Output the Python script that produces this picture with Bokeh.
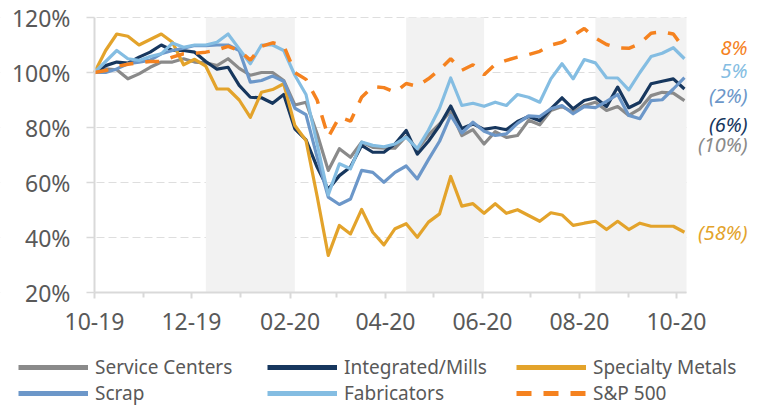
import pandas as pd
from bokeh.plotting import figure
from bokeh.models import (Range1d, FixedTicker, DatetimeTickFormatter, PrintfTickFormatter,
                          BoxAnnotation, Label, Legend, LegendItem)
from bokeh.embed import file_html
from bokeh.resources import INLINE

# ---------------- data ----------------
start_date = "2019-10-01"
n_weeks = 54
dates = pd.date_range(start_date, periods=n_weeks, freq="7D")

service_centers = [100, 101.3, 101, 97.7, 99.5, 101.9, 103.8, 103.8, 105, 103.8,
                   103.5, 102.5, 105, 101.5, 99, 100, 100, 97.1, 88.2, 89.2,
                   77.7, 64.4, 72.3, 69.2, 74.7, 72.8, 72.5, 72.5, 76.8, 72,
                   77.3, 81.3, 86, 77.1, 79.2, 74, 78.5, 76.4, 77.1, 82.6,
                   81, 86.2, 87.6, 85.6, 88, 89.2, 86.2, 87.6, 84.4, 86.8,
                   91.6, 92.8, 92.5, 89.8]
integrated_mills = [100, 102.5, 103.8, 103.4, 105.6, 107.4, 110, 108, 108, 107.4,
                    104, 101.2, 101.9, 95.3, 91, 90.8, 88.8, 92, 79.5, 75.5,
                    65.6, 57.5, 62.5, 65.6, 73.5, 71, 71, 74, 78.9, 70.3,
                    75, 80.7, 87.8, 79.6, 81.3, 79.3, 80, 79.2, 82.2, 84,
                    82.5, 86.8, 90.8, 86.8, 89.8, 90.8, 87.6, 94.7, 87.2, 89.2,
                    95.9, 96.8, 97.7, 94]
specialty_metals = [100, 108, 114, 113.2, 110, 112, 114, 111, 102.8, 104.8,
                    102.3, 94, 94, 90, 83.7, 92.8, 93.8, 95.9, 80.7, 75.3,
                    55, 33.5, 44.4, 41.3, 50.2, 41.9, 37.3, 43.2, 45, 40.1,
                    45.6, 48.6, 62.2, 51.4, 52.3, 48.8, 52.3, 48.8, 50.1, 48,
                    45.9, 49, 48.2, 44.4, 45.2, 45.9, 42.9, 45.9, 42.9, 45.2,
                    44.1, 44.1, 44.1, 41.9]
scrap = [100, 100, 101.3, 103.2, 103.8, 104.5, 106.8, 108, 108.8, 109.8,
         109.8, 110, 110, 108, 96.5, 97.1, 98.7, 96.8, 87, 84.7,
         69.2, 54.7, 52, 54, 64.4, 63.7, 60.1, 63.7, 66, 61.3,
         68.3, 75, 84.4, 78, 81.9, 78.6, 77.1, 77.7, 81.5, 84.2,
         84, 86.8, 88, 85, 87.6, 87.2, 89.5, 92, 84.4, 83.2,
         89.8, 90.1, 94, 98.1]
fabricators = [100, 104, 108, 105, 104.4, 105.8, 106.8, 110.7, 109.2, 110,
               110, 111, 114, 108.6, 103.2, 110, 110, 108, 99, 92,
               74, 55.5, 66.8, 65, 74.7, 73.5, 73, 74, 76.5, 72.3,
               79, 87, 98, 88, 88.8, 87.7, 89.2, 88, 92, 91,
               89.2, 97.7, 103.2, 97.7, 104.7, 103.5, 98.1, 98, 93.7, 100,
               105.8, 107, 109, 105]
sp500 = [100, 100.7, 102.2, 103, 103.5, 104, 104, 105.6, 106.8, 107,
         107.4, 108.2, 109.5, 108, 104.5, 109.5, 110.8, 109.8, 100, 97.5,
         90, 76.5, 83.8, 82.3, 91, 94.9, 94.5, 92.8, 96, 95,
         97.7, 101, 105, 100.8, 102.8, 99.2, 103, 104.4, 105.6, 106.5,
         107.7, 110, 111, 113.5, 116, 112.5, 110.2, 109, 108.8, 110.5,
         114.3, 114.8, 114, 108.5]

series_names = ["Service Centers", "Integrated/Mills", "Specialty Metals",
                "Scrap", "Fabricators", "S&P 500"]
series_values = [service_centers, integrated_mills, specialty_metals,
                 scrap, fabricators, sp500]

end_labels = ["(10%)", "(6%)", "(58%)", "(2%)", "5%", "8%"]
end_label_y = [73.8, 81, 41.8, 91.6, 100.7, 109.1]

shade_start = ["2019-12-10", "2020-04-14", "2020-08-11"]
shade_end = ["2020-02-04", "2020-06-02", "2020-10-07 07:00"]

x_tick_dates = ["2019-10-01", "2019-12-01", "2020-02-01", "2020-04-01",
                "2020-06-01", "2020-08-01", "2020-10-01"]
x_minor_dates = ["2019-11-01", "2020-01-01", "2020-03-01", "2020-05-01",
                 "2020-07-01", "2020-09-01"]
y_ticks = [20, 40, 60, 80, 100, 120]
y_min, y_max = 20, 120

x_start = "2019-10-01"
x_end = "2020-10-07 07:00"

# ---------------- layout / styles ----------------
W, H = 758, 406
PLOT_LEFT, PLOT_RIGHT, PLOT_TOP, PLOT_BOTTOM = 94, 686, 17, 292

colors = ["#8a8a8a", "#17375e", "#e3a32b", "#6c97c9", "#84bde2", "#f5821f"]
TEXT = "#595959"
AXIS = "#d9d9d9"
FONT = "Noto Sans"


def ms(d):
    return pd.Timestamp(d).value / 1e6


x0, x1 = ms(x_start), ms(x_end)
x_per_px = (x1 - x0) / (PLOT_RIGHT - PLOT_LEFT)
y_per_px = (y_max - y_min) / (PLOT_BOTTOM - PLOT_TOP)
view_x = (x0 - PLOT_LEFT * x_per_px, x1 + (W - PLOT_RIGHT) * x_per_px)
view_y = (y_min - (H - PLOT_BOTTOM) * y_per_px, y_max + PLOT_TOP * y_per_px)

p = figure(width=W, height=H, output_backend="svg", toolbar_location=None,
           x_axis_type="datetime",
           x_range=Range1d(*view_x), y_range=Range1d(*view_y),
           min_border=0, min_border_left=0, min_border_right=0,
           min_border_top=0, min_border_bottom=0)
p.outline_line_color = None
p.background_fill_color = "white"
p.border_fill_color = "white"

# grid
p.xgrid.grid_line_color = None
p.ygrid.grid_line_color = "#dedede"
p.ygrid.grid_line_dash = "8 4"
p.ygrid.grid_line_width = 1

# blank everything outside the plotted area (grid lines stop at the axes)
p.add_layout(BoxAnnotation(right=x0, fill_color="white", fill_alpha=1,
                           line_color=None, level="underlay"))
p.add_layout(BoxAnnotation(left=x1, fill_color="white", fill_alpha=1,
                           line_color=None, level="underlay"))

# shaded bands
for s, e in zip(shade_start, shade_end):
    p.add_layout(BoxAnnotation(left=ms(s), right=ms(e), bottom=y_min, top=y_max,
                               fill_color="#f2f2f2", fill_alpha=1, line_color=None,
                               level="underlay"))

# axes (pinned to the plotted area)
xa = p.xaxis[0]
xa.fixed_location = y_min
xa.bounds = (x0, x1)
xa.ticker = FixedTicker(ticks=[ms(d) for d in x_tick_dates],
                        minor_ticks=[ms(d) for d in x_minor_dates])
fmt = "%m-%y"
xa.formatter = DatetimeTickFormatter(days=fmt, months=fmt, years=fmt, hours=fmt,
                                     minutes=fmt, seconds=fmt, milliseconds=fmt,
                                     minsec=fmt, hourmin=fmt)
xa.axis_line_color = AXIS
xa.axis_line_width = 2
xa.major_tick_line_color = AXIS
xa.minor_tick_line_color = AXIS
xa.major_tick_line_width = 2
xa.minor_tick_line_width = 2
xa.major_tick_out = 6
xa.major_tick_in = 0
xa.minor_tick_out = 5
xa.minor_tick_in = 0
xa.major_label_standoff = 14
xa.major_label_text_font = FONT
xa.major_label_text_font_size = "23px"
xa.major_label_text_color = TEXT

ya = p.yaxis[0]
ya.fixed_location = x0
ya.bounds = (y_min, y_max)
ya.ticker = FixedTicker(ticks=y_ticks)
ya.formatter = PrintfTickFormatter(format="%d%%")
ya.axis_line_color = AXIS
ya.axis_line_width = 2
ya.major_tick_line_color = AXIS
ya.major_tick_line_width = 1.5
ya.major_tick_out = 8
ya.major_tick_in = 0
ya.minor_tick_line_color = None
ya.major_label_standoff = 16
ya.major_label_text_font = FONT
ya.major_label_text_font_size = "23px"
ya.major_label_text_color = TEXT

# lines (+ hidden twins carrying the thicker legend styling)
legend_renderers = []
for name, vals, col in zip(series_names, series_values, colors):
    if name == "S&P 500":
        p.line(dates, vals, line_color=col, line_width=3.5, line_dash="14 12")
        lr = p.line(dates, vals, line_color=col, line_width=5, line_dash="15 12",
                    visible=False)
    else:
        p.line(dates, vals, line_color=col, line_width=3.2, line_join="round")
        lr = p.line(dates, vals, line_color=col, line_width=5, visible=False)
    legend_renderers.append(lr)

# end labels
for txt, yv, col in zip(end_labels, end_label_y, colors):
    p.add_layout(Label(x=x1, y=yv, x_offset=61, text=txt, text_align="right",
                       text_baseline="middle", text_color=col, text_font=FONT,
                       text_font_style="italic", text_font_size="20px"))

# legend: two horizontal rows of three items at the bottom
legend_rows = [[0, 1, 2], [3, 4, 5]]
row_bottoms = [26, 0]
for idxs, yb in zip(legend_rows, row_bottoms):
    items = [LegendItem(label=series_names[i], renderers=[legend_renderers[i]])
             for i in idxs]
    lg = Legend(items=items, location=(18, yb), orientation="horizontal",
                glyph_width=70, glyph_height=26, label_height=26, label_width=172,
                label_standoff=7, spacing=0, padding=0, margin=0,
                border_line_color=None, background_fill_alpha=0,
                label_text_font=FONT, label_text_font_size="19px",
                label_text_color=TEXT)
    p.add_layout(lg)

open("out.html", "w").write(file_html(p, INLINE))
